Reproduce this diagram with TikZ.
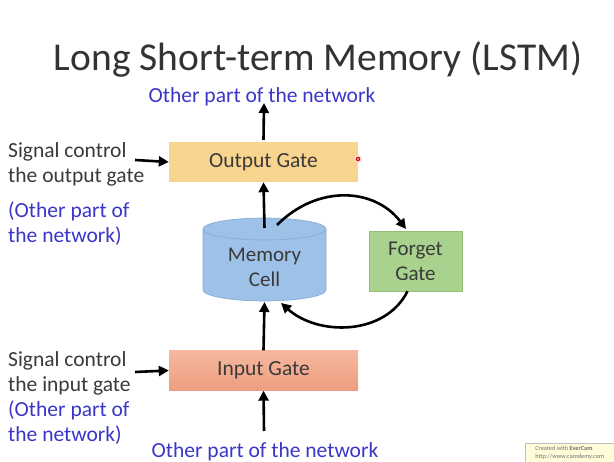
\documentclass[tikz,border=0pt]{standalone}
\usepackage{fontspec}
\setmainfont{Carlito}
\usetikzlibrary{arrows.meta}
\definecolor{inkblue}{HTML}{3B36C8}
\definecolor{txtgray}{HTML}{3A3A3A}
\definecolor{outfill}{HTML}{F9D48E}
\definecolor{inTop}{HTML}{F5B89E}
\definecolor{inBot}{HTML}{EE9E80}
\definecolor{cellfill}{HTML}{9EC1E8}
\definecolor{celledge}{HTML}{86A8D2}
\definecolor{forgetfill}{HTML}{A9D28E}
\definecolor{forgetedge}{HTML}{93BE76}
\tikzset{
  gatebox/.style={minimum width=189pt, minimum height=40pt, inner sep=0pt, text=txtgray, font=\fontsize{21.5}{25}\selectfont},
  plain/.style={align=left, anchor=west, text=txtgray, font=\fontsize{21.5}{25}\selectfont, inner sep=0pt},
  bluetxt/.style={align=left, text=inkblue, font=\fontsize{21.5}{25}\selectfont, inner sep=0pt},
  flow/.style={line width=2.6pt, -{Triangle[length=10pt,width=10pt]}},
}
\begin{document}
\begin{tikzpicture}[x=1pt, y=-1pt]
\useasboundingbox (0,0) rectangle (614,462);
\fill[white] (0,0) rectangle (614,462);

% title
\node[text=black!80, font=\fontsize{39.5}{44}\selectfont, inner sep=0pt] (title) at (318,59) {Long Short-term Memory (LSTM)};

% gates
\node[gatebox, fill=outfill] (outgate) at (263.5,162) {\raisebox{-1.5pt}{Output Gate}};
\node[gatebox, top color=inTop, bottom color=inBot] (ingate) at (263.5,370.5) {\raisebox{-1.5pt}{Input Gate}};
\node[minimum width=93pt, minimum height=60pt, inner sep=0pt, fill=forgetfill, draw=forgetedge, line width=0.6pt,
      align=center, text=txtgray, font=\fontsize{21}{25}\selectfont] (forget) at (415.5,261) {Forget\\Gate};

% memory cell cylinder
\fill[cellfill, draw=celledge, line width=0.6pt]
  (203,229) -- (203,290) arc[start angle=180, end angle=360, x radius=61.5, y radius=-11] -- (326,229)
  arc[start angle=0, end angle=180, x radius=61.5, y radius=-11] -- cycle;
\draw[celledge, line width=0.6pt] (203,229) arc[start angle=180, end angle=360, x radius=61.5, y radius=-11];
\node[align=center, text=txtgray, font=\fontsize{21}{25}\selectfont, inner sep=0pt] (cell) at (264.5,267) {Memory\\Cell};
\coordinate (celltop) at (264.5,228);
\coordinate (cellbot) at (264.5,302);
\coordinate (cellne) at (277,225);
\coordinate (cellse) at (281,303);

% labels
\node[bluetxt] (outnet) at (262,97) {Other part of the network};
\node[bluetxt] (innet) at (265,452) {Other part of the network};
\node[plain] (sigout) at (8,164) {Signal control\\the output gate};
\node[plain, text=inkblue] (netout) at (8,224) {(Other part of\\the network)};
\node[plain] (sigin) at (8,373) {Signal control\\the input gate};
\node[plain, text=inkblue] (netin) at (8,423) {(Other part of\\the network)};

% connectors
\coordinate (outsrc) at (135,160);
\coordinate (insrc) at (135,372);
\coordinate (inbase) at (264,431);
\draw[flow] (outgate.north) ++(0,-2) -- (264,103);
\draw[flow] (celltop) -- (outgate.south);
\draw[flow] (ingate.north) -- (cellbot);
\draw[flow] (inbase) -- (ingate.south);
\draw[flow] (outsrc) -- (outgate.west);
\draw[flow] (insrc) -- (ingate.west);
\draw[flow] (cellne) .. controls (318,184) and (375,188) .. (406,229);
\draw[flow] (forget.south) ++(-8,0) .. controls (385,336) and (318,336) .. (cellse);

% cursor marker
\fill[red!15] (358,159) circle (4pt);
\fill[red!80!black] (358,159) circle (2.2pt);
\fill[white] (358,159) circle (0.8pt);

% watermark
\node[anchor=north west, fill=yellow!15, draw=black!25, line width=0.5pt, minimum width=89pt, minimum height=19pt,
      inner sep=2pt, align=left, font=\fontsize{6.3}{7.5}\selectfont, text=black!55] (stamp) at (525,443)
      {Created with \textbf{EverCam}\\http://www.camdemy.com};
\end{tikzpicture}
\end{document}
